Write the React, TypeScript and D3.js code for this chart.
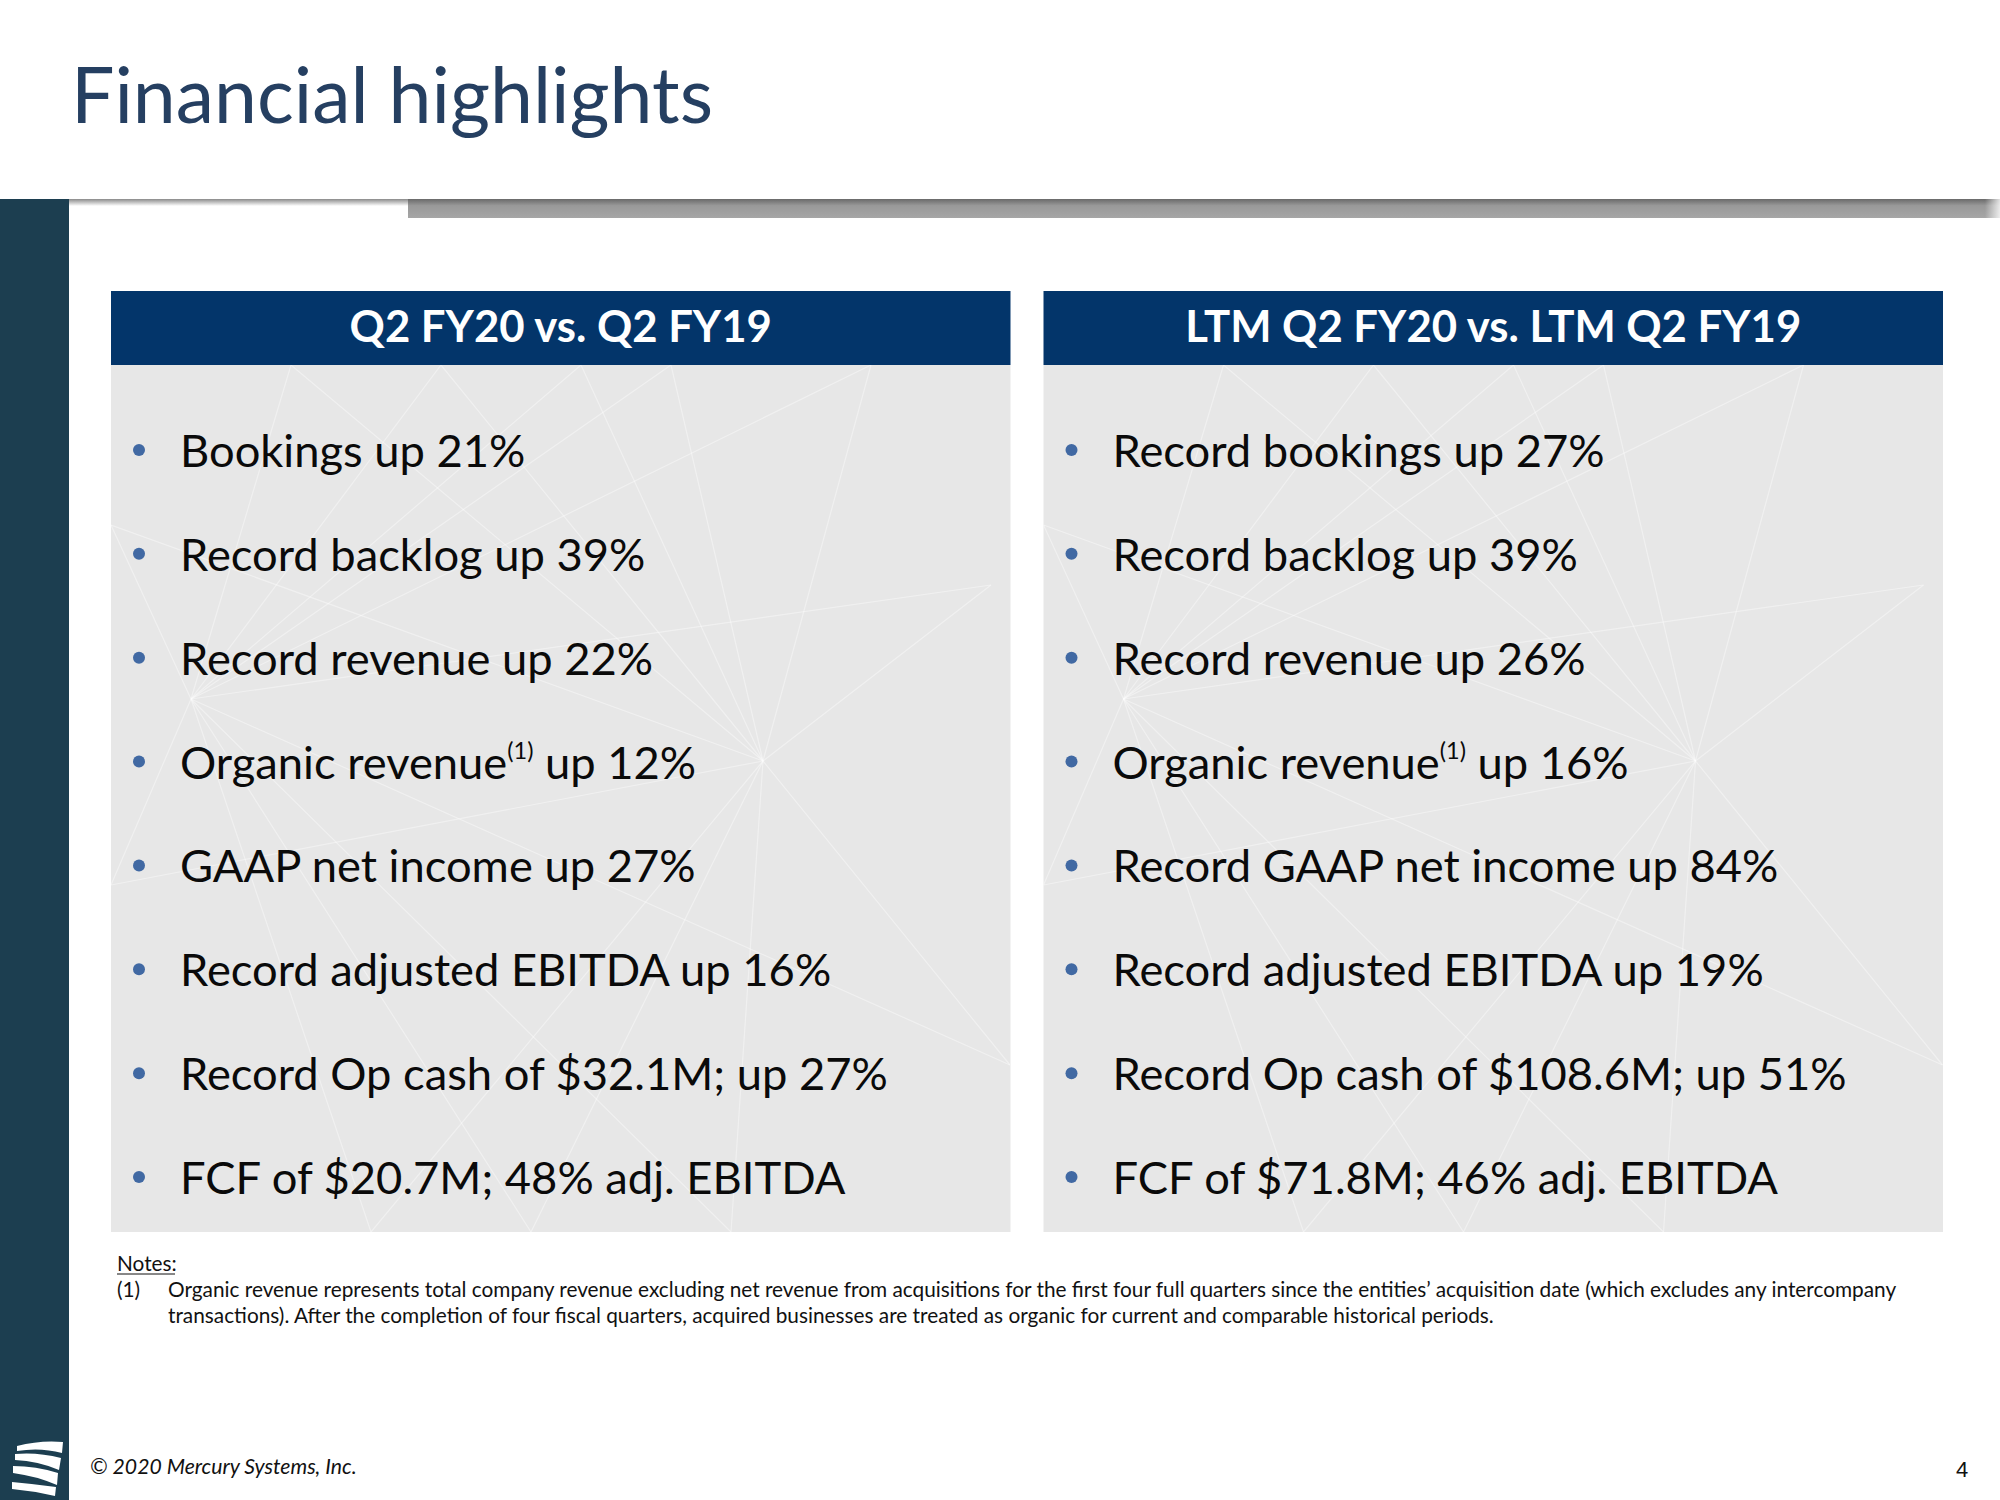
import React from "react";
import * as d3 from "d3";

// ---- content ----
const titleText = "Financial highlights";
const panelHeaders = ["Q2 FY20 vs. Q2 FY19", "LTM Q2 FY20 vs. LTM Q2 FY19"];
// each bullet: [before superscript, superscript, after superscript]
const leftBullets: [string, string, string][] = [
  ["Bookings up 21%", "", ""],
  ["Record backlog up 39%", "", ""],
  ["Record revenue up 22%", "", ""],
  ["Organic revenue", "(1)", " up 12%"],
  ["GAAP net income up 27%", "", ""],
  ["Record adjusted EBITDA up 16%", "", ""],
  ["Record Op cash of $32.1M; up 27%", "", ""],
  ["FCF of $20.7M; 48% adj. EBITDA", "", ""],
];
const rightBullets: [string, string, string][] = [
  ["Record bookings up 27%", "", ""],
  ["Record backlog up 39%", "", ""],
  ["Record revenue up 26%", "", ""],
  ["Organic revenue", "(1)", " up 16%"],
  ["Record GAAP net income up 84%", "", ""],
  ["Record adjusted EBITDA up 19%", "", ""],
  ["Record Op cash of $108.6M; up 51%", "", ""],
  ["FCF of $71.8M; 46% adj. EBITDA", "", ""],
];
const notesLabel = "Notes:";
const noteNumber = "(1)";
const noteLines = [
  "Organic revenue represents total company revenue excluding net revenue from acquisitions for the first four full quarters since the entities\u2019 acquisition date (which excludes any intercompany",
  "transactions). After the completion of four fiscal quarters, acquired businesses are treated as organic for current and comparable historical periods.",
];
const footerText = "\u00A9 2020 Mercury Systems, Inc.";
const pageNumber = "4";

const W = 2000;
const H = 1500;
const FONT = "Lato, 'Open Sans', sans-serif";

export default function App() {
  const panelX = d3
    .scaleBand<number>()
    .domain([0, 1])
    .range([111, 1943])
    .paddingInner(0.0354)
    .paddingOuter(0);
  const bw = panelX.bandwidth();
  const headerTop = 291;
  const headerBottom = 365;
  const bodyBottom = 1232;
  const rowY = d3
    .scalePoint<number>()
    .domain(d3.range(8))
    .range([467, 1194]);

  const panels = [leftBullets, rightBullets];

  // faint decorative network lines inside the panels (relative to panel)
  const hubs = [
    [652, 396],
    [80, 334],
  ];
  const spokes = [
    [180, 0], [330, 0], [560, 0], [880, 220], [899, 700], [620, 867],
    [420, 867], [260, 867], [0, 160], [0, 520], [760, 0], [470, 0],
  ];

  return (
    <svg
      width={W}
      height={H}
      viewBox={`0 0 ${W} ${H}`}
      style={{ position: "absolute", left: 0, top: 0, background: "#fff" }}
    >
      <defs>
        <linearGradient id="barGrad" x1="0" y1="0" x2="0" y2="1">
          <stop offset="0" stopColor="#6a6a6a" />
          <stop offset="0.35" stopColor="#999999" />
          <stop offset="1" stopColor="#a6a6a6" />
        </linearGradient>
        <linearGradient id="shadowGrad" x1="0" y1="0" x2="0" y2="1">
          <stop offset="0" stopColor="#8a8a8a" />
          <stop offset="1" stopColor="#ffffff" />
        </linearGradient>
        <linearGradient id="fadeRight" x1="0" y1="0" x2="1" y2="0">
          <stop offset="0" stopColor="#fff" stopOpacity="0" />
          <stop offset="1" stopColor="#fff" stopOpacity="0.8" />
        </linearGradient>
        {panels.map((_, i) => (
          <clipPath id={`clip${i}`} key={i}>
            <rect x={panelX(i)} y={headerBottom} width={bw} height={bodyBottom - headerBottom} />
          </clipPath>
        ))}
      </defs>

      {/* title */}
      <text x={71} y={123} fontFamily={FONT} fontSize={77} fill="#253f61">
        {titleText}
      </text>

      {/* top separator */}
      <rect x={69} y={199} width={W - 69} height={7} fill="url(#shadowGrad)" />
      <rect x={408} y={199} width={W - 408} height={19} fill="url(#barGrad)" />
      <rect x={1985} y={199} width={15} height={19} fill="url(#fadeRight)" />

      {/* left band */}
      <rect x={0} y={199} width={69} height={H - 199} fill="#1c3e50" />

      {/* logo */}
      <g fill="#ffffff">
        <path d="M17,1446 Q40,1440 63,1442 L62,1453 Q40,1447 17,1451 Z" />
        <path d="M15,1454 Q38,1452 61,1458 L59,1470 Q38,1461 15,1460 Z" />
        <path d="M13,1466 Q36,1466 58,1473 L57,1485 Q36,1476 13,1473 Z" />
        <path d="M12,1482 Q34,1484 56,1487 L55,1496 Q34,1491 12,1489 Z" />
      </g>

      {/* panels */}
      {panels.map((bullets, i) => {
        const x0 = panelX(i) as number;
        return (
          <g key={i}>
            <rect x={x0} y={headerTop} width={bw} height={headerBottom - headerTop} fill="#03356a" />
            <text
              x={x0 + bw / 2}
              y={342}
              textAnchor="middle"
              fontFamily={FONT}
              fontWeight={700}
              fontSize={43.7}
              fill="#ffffff"
            >
              {panelHeaders[i]}
            </text>
            <rect x={x0} y={headerBottom} width={bw} height={bodyBottom - headerBottom} fill="#e7e7e7" />
            <g clipPath={`url(#clip${i})`} stroke="#ffffff" strokeOpacity={0.4} strokeWidth={1.2}>
              {hubs.map((h, hi) =>
                spokes.map((s, si) => (
                  <line
                    key={`${hi}-${si}`}
                    x1={x0 + h[0]}
                    y1={headerBottom + h[1]}
                    x2={x0 + s[0]}
                    y2={headerBottom + s[1]}
                  />
                ))
              )}
            </g>
            {bullets.map((b, r) => {
              const y = rowY(r) as number;
              return (
                <g key={r}>
                  <circle cx={x0 + 28} cy={y - 17} r={6} fill="#4169a3" />
                  <text x={x0 + 69} y={y} fontFamily={FONT} fontSize={45.3} fill="#0a0a0a">
                    <tspan>{b[0]}</tspan>
                    {b[1] ? (
                      <tspan fontSize={23.5} dy={-20}>
                        {b[1]}
                      </tspan>
                    ) : null}
                    {b[2] ? <tspan dy={b[1] ? 20 : 0}>{b[2]}</tspan> : null}
                  </text>
                </g>
              );
            })}
          </g>
        );
      })}

      {/* notes */}
      <text x={117} y={1271} fontFamily={FONT} fontSize={20.8} fill="#111">
        {notesLabel}
      </text>
      <line x1={117} x2={175} y1={1274} y2={1274} stroke="#111" strokeWidth={1} />
      <text x={117} y={1297} fontFamily={FONT} fontSize={20.8} fill="#111">
        {noteNumber}
      </text>
      {noteLines.map((l, i) => (
        <text key={i} x={168} y={1297 + i * 26} fontFamily={FONT} fontSize={20.8} fill="#111">
          {l}
        </text>
      ))}

      {/* footer */}
      <text x={90} y={1474} fontFamily={FONT} fontStyle="italic" fontSize={21.2} fill="#111">
        {footerText}
      </text>
      <text x={1962} y={1477} textAnchor="middle" fontFamily="'Liberation Sans', Arial, sans-serif" fontSize={22} fill="#111">
        {pageNumber}
      </text>
    </svg>
  );
}
